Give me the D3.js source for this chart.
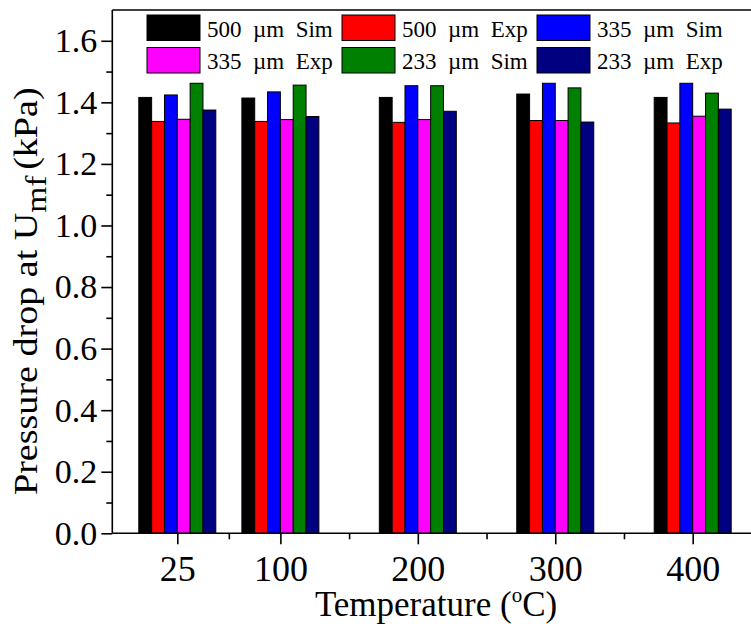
<!DOCTYPE html>
<html>
<head>
<meta charset="utf-8">
<script src="https://cdn.jsdelivr.net/npm/d3@7/dist/d3.min.js"></script>
<style>
  html, body { margin: 0; padding: 0; background: #fff; }
  svg { display: block; }
  svg text { font-family: "Liberation Serif", "Times New Roman", serif !important; fill: #000; }
</style>
</head>
<body>
<svg id="chart" width="751" height="624"></svg>
<script>
// Temperatures (°C) on the x axis
const temperatures = [25, 100, 200, 300, 400];

// Series names, drawing order within each group
const seriesNames = ["500 µm Sim", "500 µm Exp", "335 µm Sim", "335 µm Exp", "233 µm Sim", "233 µm Exp"];
const seriesColors = ["#000000", "#ff0000", "#0000ff", "#ff00ff", "#008000", "#000080"];

// Pressure drop at Umf (kPa), one array per series, indexed like temperatures
const sim500 = [1.416, 1.414, 1.416, 1.427, 1.416];
const exp500 = [1.338, 1.338, 1.335, 1.341, 1.333];
const sim335 = [1.424, 1.434, 1.454, 1.462, 1.462];
const exp335 = [1.345, 1.344, 1.344, 1.341, 1.355];
const sim233 = [1.462, 1.456, 1.454, 1.447, 1.430];
const exp233 = [1.375, 1.354, 1.371, 1.336, 1.378];
const seriesValues = [sim500, exp500, sim335, exp335, sim233, exp233];

// Axis ticks
const yTicks = [0.0, 0.2, 0.4, 0.6, 0.8, 1.0, 1.2, 1.4, 1.6];
const xTickLabels = ["25", "100", "200", "300", "400"];

const svg = d3.select("#chart");
const plotLeft = 112.3, plotRight = 751, plotTop = 10, plotBottom = 533.3;

const x = d3.scaleLinear().domain([25, 400]).range([177.3, 692.7]);
const y = d3.scaleLinear().domain([0, 1.7]).range([plotBottom, plotTop]);
const inner = d3.scaleBand().domain(seriesNames).range([-38.5, 38.5]).padding(0);

// Bars
const rows = [];
temperatures.forEach((t, i) => {
  seriesNames.forEach((s, j) => rows.push({ t, s, j, v: seriesValues[j][i] }));
});
svg.append("g").selectAll("rect").data(rows).join("rect")
  .attr("x", d => x(d.t) + inner(d.s))
  .attr("y", d => y(d.v))
  .attr("width", inner.bandwidth())
  .attr("height", d => y(0) - y(d.v))
  .attr("fill", d => seriesColors[d.j])
  .attr("stroke", "#000")
  .attr("stroke-width", 1);

// Y axis (major + minor ticks)
const yMinor = d3.pairs(yTicks).map(([a, b]) => (a + b) / 2);
const yAxis = svg.append("g").attr("transform", `translate(${plotLeft},0)`);
yAxis.call(d3.axisLeft(y).tickValues(yTicks).tickFormat(d3.format(".1f")).tickSize(11).tickPadding(4));
yAxis.append("g").call(d3.axisLeft(y).tickValues(yMinor).tickFormat("").tickSize(6))
  .select(".domain").remove();
yAxis.selectAll(".domain").attr("d", `M0,${plotTop}V${plotBottom}`);
yAxis.selectAll("text").style("font-size", "34px");

// X axis (major + minor ticks)
const xMinor = d3.pairs(temperatures).map(([a, b]) => (a + b) / 2);
const xAxis = svg.append("g").attr("transform", `translate(0,${plotBottom})`);
xAxis.call(d3.axisBottom(x).tickValues(temperatures).tickFormat((d, i) => xTickLabels[i]).tickSize(11).tickPadding(11));
xAxis.append("g").call(d3.axisBottom(x).tickValues(xMinor).tickFormat("").tickSize(6))
  .select(".domain").remove();
xAxis.selectAll(".domain").attr("d", `M${plotLeft},0H${plotRight}`);
xAxis.selectAll("text").style("font-size", "36px");

svg.selectAll(".domain, .tick line").attr("stroke", "#000").attr("stroke-width", 1.6);

// Top frame line
svg.append("line").attr("x1", plotLeft).attr("x2", plotRight).attr("y1", plotTop).attr("y2", plotTop)
  .attr("stroke", "#000").attr("stroke-width", 1.6);

// Axis titles
const xt = svg.append("text").attr("x", 436).attr("y", 616).attr("text-anchor", "middle")
  .style("font-size", "35px");
xt.append("tspan").text("Temperature (");
xt.append("tspan").attr("dy", -14).style("font-size", "21px").text("o");
xt.append("tspan").attr("dy", 14).text("C)");

const yt = svg.append("text").attr("transform", "translate(37,495) rotate(-90) scale(1.12,1)")
  .style("font-size", "34px");
yt.append("tspan").text("Pressure drop at U");
yt.append("tspan").attr("dy", 9).style("font-size", "30px").text("mf");
yt.append("tspan").attr("dy", -9).attr("dx", 5).text("(kPa)");

// Legend: 3 columns x 2 rows
const legend = svg.append("g");
seriesNames.forEach((name, i) => {
  const col = i % 3, row = Math.floor(i / 3);
  const g = legend.append("g").attr("transform", `translate(${147 + col * 195},${15 + row * 32.5})`);
  g.append("rect").attr("width", 53).attr("height", 25.5)
    .attr("fill", seriesColors[i]).attr("stroke", "#000").attr("stroke-width", 1);
  g.append("text").attr("x", 60).attr("y", 21.8)
    .style("font-size", "23px").style("white-space", "pre")
    .text(name.replace(/ /g, "  "));
});
</script>
</body>
</html>
